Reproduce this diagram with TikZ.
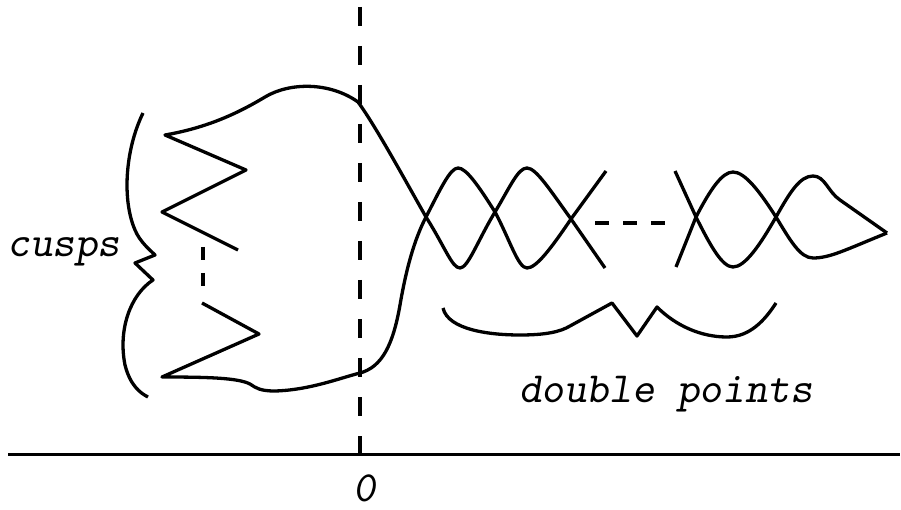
\documentclass[tikz,border=0pt]{standalone}
\tikzset{
  curve/.style={line width=3.3pt, line join=round},
  vdash/.style={line width=3.3pt, dash pattern=on 19pt off 20pt},
  sdash/.style={line width=3.3pt, dash pattern=on 14pt off 14pt},
  lbl/.style={font=\fontsize{43}{46}\selectfont\ttfamily\slshape, inner sep=0pt, anchor=base}
}
\begin{document}
\begin{tikzpicture}[x=1pt,y=-1pt]
\useasboundingbox (0,0) rectangle (901,510);
% axis and zero line
\draw[line width=3pt] (8,454) -- (900,454);
\draw[vdash] (360,7) -- (360,455);
% left brace
\draw[curve] (143,113) .. controls (125,150) and (122,200) .. (135,230)
  .. controls (140,242) and (150,250) .. (155,255) -- (135,263) -- (153,280)
  .. controls (130,295) and (118,330) .. (125,365)
  .. controls (130,385) and (140,393) .. (148,397);
% cusps zigzags and the curve
\draw[curve] (238,250) -- (162,212) -- (246,170) -- (165,135)
  .. controls (205,128) and (235,115) .. (265,97)
  .. controls (290,82) and (330,82) .. (358,102)
  .. controls (375,125) and (405,180) .. (426,217)
  .. controls (445,247) and (452,268) .. (460,268)
  .. controls (468,268) and (478,240) .. (495,212)
  .. controls (510,187) and (518,168) .. (527,168)
  .. controls (536,168) and (550,190) .. (571,219)
  -- (605,268);
\draw[curve] (202,303) -- (259,334) -- (162,377)
  .. controls (210,377) and (238,378) .. (250,384)
  .. controls (256,388) and (260,391) .. (275,391)
  .. controls (310,390) and (340,378) .. (360,373)
  .. controls (382,367) and (393,345) .. (400,305)
  .. controls (406,270) and (414,240) .. (426,217)
  .. controls (440,190) and (450,168) .. (458,168)
  .. controls (466,168) and (478,185) .. (495,212)
  .. controls (510,240) and (518,268) .. (527,268)
  .. controls (536,268) and (550,250) .. (571,219)
  -- (606,171);
\draw[sdash, dash pattern=on 13pt off 13pt] (203,247) -- (203,287);
\draw[sdash] (595,223) -- (669,223);
% right crossings
\draw[curve] (675,171) -- (696,217)
  .. controls (710,245) and (722,267) .. (733,267)
  .. controls (745,267) and (760,245) .. (776,217)
  .. controls (790,192) and (800,176) .. (813,176)
  .. controls (825,176) and (828,192) .. (840,200)
  -- (887,233);
\draw[curve] (676,267) -- (696,217)
  .. controls (710,190) and (722,172) .. (733,172)
  .. controls (745,172) and (760,192) .. (776,217)
  .. controls (790,240) and (800,258) .. (813,258)
  .. controls (830,258) and (845,250) .. (887,233);
% bottom brace
\draw[curve] (443,308) .. controls (448,330) and (490,335) .. (520,335)
  .. controls (545,335) and (560,332) .. (570,326) -- (612,303) -- (637,336) -- (657,307)
  .. controls (675,325) and (700,337) .. (727,337)
  .. controls (750,337) and (765,320) .. (776,303);
% labels
\node[lbl] (cusps) at (64,257) {cusps};
\node[lbl] (dp) at (666,402) {double points};
\node[lbl] (zero) at (365,501) {0};
\end{tikzpicture}
\end{document}
